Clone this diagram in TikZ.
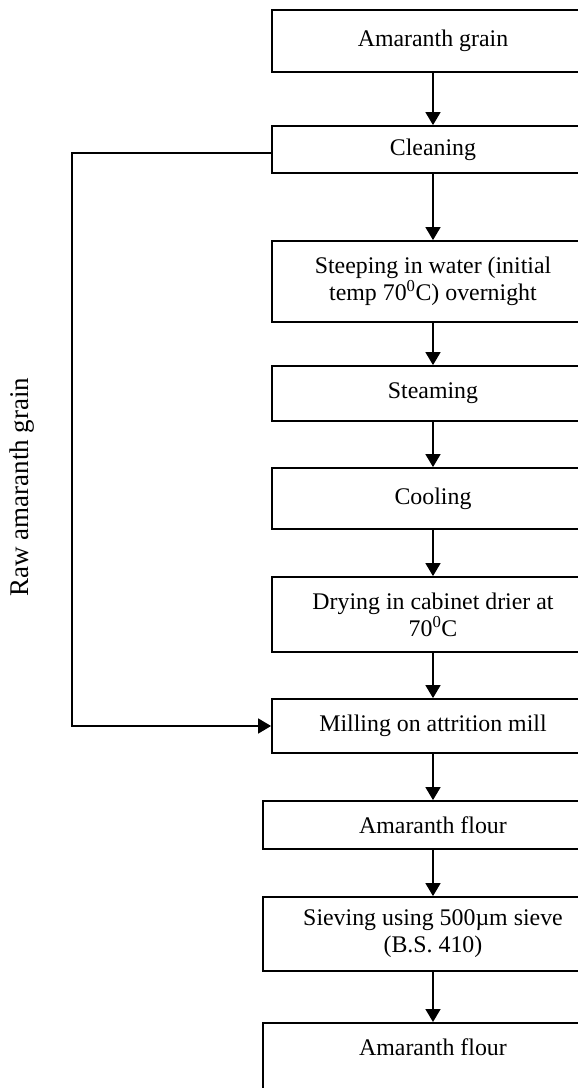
\documentclass[tikz,border=0pt]{standalone}
\usepackage{fontspec}
\setmainfont{Liberation Serif}
\usetikzlibrary{arrows.meta}
\begin{document}
\begin{tikzpicture}[x=1pt,y=-1pt,
  box/.style={draw, line width=1.8pt, minimum width=322pt, inner sep=0pt, align=center,
    font=\fontsize{23.85}{27}\selectfont},
  widebox/.style={box, minimum width=340pt},
  arr/.style={line width=1.5pt, -{Triangle[length=13pt,width=15pt]}},
  lbl/.style={font=\fontsize{27}{30}\selectfont}]
\useasboundingbox (0,0) rectangle (578,1088);
\clip (0,0) rectangle (578,1088);
\node[box, minimum height=62pt] (grain) at (433,41) {Amaranth grain};
\node[box, minimum height=47pt] (clean) at (433,149.5) {Cleaning};
\node[box, minimum height=81pt] (steep) at (433,281.5) {Steeping in water (initial\\temp 70\textsuperscript{0}C) overnight};
\node[box, minimum height=55pt] (steam) at (433,393.5) {Steaming};
\node[box, minimum height=61pt] (cool) at (433,498.5) {Cooling};
\node[box, minimum height=75pt] (dry) at (433,614.5) {Drying in cabinet drier at\\70\textsuperscript{0}C};
\node[box, minimum height=54pt] (mill) at (433,726) {Milling on attrition mill};
\node[widebox, minimum height=48pt] (flour1) at (433,825) {Amaranth flour};
\node[widebox, minimum height=74pt] (sieve) at (433,934) {Sieving using 500µm sieve\\(B.S. 410)};
\node[widebox, minimum height=100pt, anchor=north] (flour2) at (433,1022) {};
\node[font=\fontsize{23.85}{27}\selectfont, anchor=base] (flour2t) at (433,1055) {Amaranth flour};
\draw[arr] (grain) -- (clean);
\draw[arr] (clean) -- (steep);
\draw[arr] (steep) -- (steam);
\draw[arr] (steam) -- (cool);
\draw[arr] (cool) -- (dry);
\draw[arr] (dry) -- (mill);
\draw[arr] (mill) -- (flour1);
\draw[arr] (flour1) -- (sieve);
\draw[arr] (sieve) -- (flour2);
\coordinate (fb) at (72,153);
\draw[arr] (clean.west |- 0,153) -- (fb) |- (mill.west);
\node[lbl, rotate=90] (raw) at (22,487) {Raw amaranth grain};
\end{tikzpicture}
\end{document}
